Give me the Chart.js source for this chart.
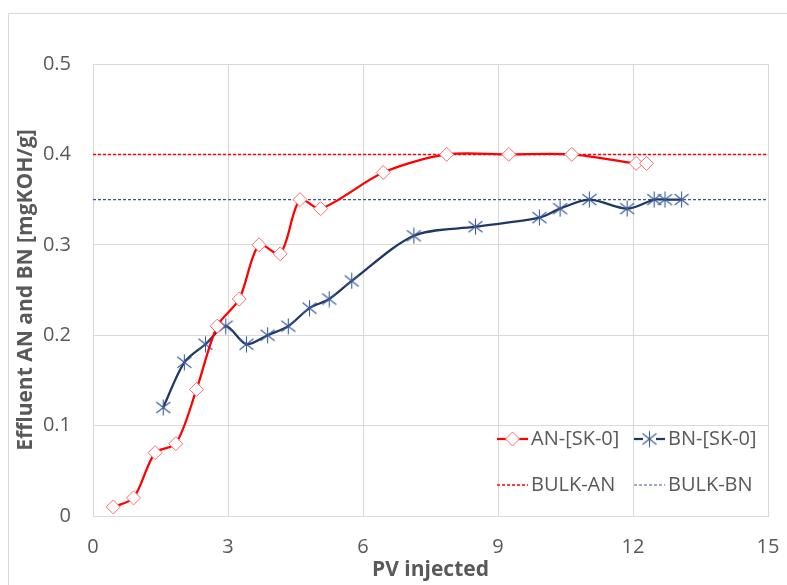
<!DOCTYPE html>
<html>
<head>
<meta charset="utf-8">
<script src="https://cdn.jsdelivr.net/npm/chart.js@4.4.0/dist/chart.umd.min.js"></script>
<style>
  html, body { margin: 0; padding: 0; background: #fff; }
  #wrap { width: 787px; height: 585px; position: relative; }
</style>
</head>
<body>
<div id="wrap"><canvas id="effluentChart" width="787" height="585"></canvas></div>
<script>
// AN-[SK-0] effluent points (PV injected, mgKOH/g)
const anPV = [0.45, 0.9, 1.38, 1.84, 2.3, 2.76, 3.25, 3.69, 4.16, 4.6, 5.06, 6.45, 7.86, 9.24, 10.64, 12.07, 12.3];
const anVal = [0.01, 0.02, 0.07, 0.08, 0.14, 0.21, 0.24, 0.30, 0.29, 0.35, 0.34, 0.38, 0.40, 0.40, 0.40, 0.39, 0.39];

// BN-[SK-0] effluent points
const bnPV = [1.56, 2.03, 2.5, 2.95, 3.41, 3.88, 4.34, 4.81, 5.25, 5.75, 7.13, 8.5, 9.92, 10.38, 11.03, 11.87, 12.47, 12.71, 13.08];
const bnVal = [0.12, 0.17, 0.19, 0.21, 0.19, 0.20, 0.21, 0.23, 0.24, 0.26, 0.31, 0.32, 0.33, 0.34, 0.35, 0.34, 0.35, 0.35, 0.35];

// bulk reference levels
const bulkPV = [0, 15];
const bulkAN = 0.40;
const bulkBN = 0.35;

const xTicks = [0, 3, 6, 9, 12, 15];
const yTicks = [0, 0.1, 0.2, 0.3, 0.4, 0.5];

const toXY = (xs, ys) => xs.map((x, i) => ({x: x, y: ys[i]}));

const FONT = '"Open Sans", "Noto Sans", sans-serif';
const GREY = '#595959';

// Excel style asterisk marker (vertical bar + X)
function makeStar(color) {
    const c = document.createElement('canvas');
    c.width = 17; c.height = 17;
    const g = c.getContext('2d');
    g.strokeStyle = color;
    g.lineWidth = 1.1;
    g.beginPath();
    g.moveTo(8.5, 0.5); g.lineTo(8.5, 16.5);
    g.moveTo(1.5, 3); g.lineTo(15.5, 14);
    g.moveTo(15.5, 3); g.lineTo(1.5, 14);
    g.stroke();
    return c;
}
const starImg = makeStar('#3A5A9C');

// legend drawn inside the plot, two columns like the original
const insideLegend = {
    id: 'insideLegend',
    afterDraw(chart) {
        const ctx = chart.ctx;
        const a = chart.chartArea;
        const x0 = a.left + 404, x1 = a.left + 541;
        const r0 = a.top + 375, r1 = a.top + 421;
        ctx.save();
        ctx.font = '20px ' + FONT;
        ctx.fillStyle = GREY;
        ctx.textBaseline = 'middle';
        ctx.textAlign = 'left';

        // AN
        ctx.strokeStyle = '#FF0000'; ctx.lineWidth = 2.25;
        ctx.beginPath(); ctx.moveTo(x0, r0); ctx.lineTo(x0 + 31, r0); ctx.stroke();
        ctx.fillStyle = '#fff'; ctx.strokeStyle = '#FF6B6B'; ctx.lineWidth = 1;
        ctx.beginPath();
        ctx.moveTo(x0 + 15.5, r0 - 7); ctx.lineTo(x0 + 22.5, r0);
        ctx.lineTo(x0 + 15.5, r0 + 7); ctx.lineTo(x0 + 8.5, r0); ctx.closePath();
        ctx.fill(); ctx.stroke();
        ctx.fillStyle = GREY;
        ctx.fillText('AN-[SK-0]', x0 + 34, r0);

        // BN
        ctx.strokeStyle = '#1F3864'; ctx.lineWidth = 2.25;
        ctx.beginPath(); ctx.moveTo(x1, r0); ctx.lineTo(x1 + 31, r0); ctx.stroke();
        ctx.fillStyle = '#fff';
        ctx.fillRect(x1 + 9, r0 - 2, 13, 4);
        ctx.drawImage(starImg, x1 + 7, r0 - 8.5);
        ctx.fillStyle = GREY;
        ctx.fillText('BN-[SK-0]', x1 + 34, r0);

        // bulk lines
        ctx.setLineDash([3, 2]); ctx.lineWidth = 1.5;
        ctx.strokeStyle = '#FF0000';
        ctx.beginPath(); ctx.moveTo(x0, r1); ctx.lineTo(x0 + 31, r1); ctx.stroke();
        ctx.strokeStyle = '#3B5590'; ctx.lineWidth = 1.2;
        ctx.beginPath(); ctx.moveTo(x1, r1); ctx.lineTo(x1 + 31, r1); ctx.stroke();
        ctx.setLineDash([]);
        ctx.fillText('BULK-AN', x0 + 34, r1);
        ctx.fillText('BULK-BN', x1 + 34, r1);
        ctx.restore();
    }
};

// light chart-frame border as in the Excel export
const frame = {
    id: 'frame',
    beforeDraw(chart) {
        const ctx = chart.ctx;
        ctx.save();
        ctx.strokeStyle = '#D9D9D9';
        ctx.lineWidth = 1;
        ctx.strokeRect(8.5, 13.5, 900, 900);
        ctx.restore();
    }
};

var ctx = document.getElementById('effluentChart');
new Chart(ctx, {
    type: 'scatter',
    data: {
        datasets: [{
            label: 'AN-[SK-0]',
            data: toXY(anPV, anVal),
            showLine: true,
            borderColor: '#FF0000',
            borderWidth: 2.25,
            tension: 0.3,
            pointStyle: 'rectRot',
            pointRadius: 7,
            pointBackgroundColor: '#fff',
            pointBorderColor: '#FF6B6B',
            pointBorderWidth: 1
        }, {
            label: 'BN-[SK-0]',
            data: toXY(bnPV, bnVal),
            showLine: true,
            borderColor: '#1F3864',
            borderWidth: 2.25,
            tension: 0.3,
            pointStyle: starImg,
            pointRadius: 8
        }, {
            label: 'BULK-AN',
            data: toXY(bulkPV, [bulkAN, bulkAN]),
            showLine: true,
            borderColor: '#FF0000',
            borderWidth: 1.5,
            borderDash: [3, 2],
            pointRadius: 0
        }, {
            label: 'BULK-BN',
            data: toXY(bulkPV, [bulkBN, bulkBN]),
            showLine: true,
            borderColor: '#3B5590',
            borderWidth: 1.2,
            borderDash: [3, 2],
            pointRadius: 0
        }]
    },
    options: {
        responsive: false,
        animation: false,
        layout: { padding: { left: 8, top: 64, right: 19, bottom: 0 } },
        plugins: {
            legend: { display: false },
            tooltip: { enabled: false }
        },
        scales: {
            x: {
                type: 'linear',
                min: 0, max: 15,
                afterBuildTicks: s => { s.ticks = xTicks.map(v => ({value: v})); },
                afterFit: s => { s.height = 69; s.paddingLeft = 0; s.paddingRight = 0; },
                grid: { color: '#D9D9D9', drawTicks: false },
                border: { color: '#D9D9D9' },
                ticks: { color: GREY, padding: 19, font: { family: FONT, size: 20 } },
                title: {
                    display: true, text: 'PV injected', color: GREY,
                    font: { family: FONT, size: 21, weight: 'bold' },
                    padding: { top: 0, bottom: 2 }
                }
            },
            y: {
                min: 0, max: 0.5,
                afterBuildTicks: s => { s.ticks = yTicks.map(v => ({value: v})); },
                afterFit: s => { s.width = 85; },
                grid: { color: '#D9D9D9', drawTicks: false },
                border: { color: '#D9D9D9' },
                ticks: {
                    color: GREY, padding: 22, font: { family: FONT, size: 20 },
                    callback: v => String(Math.round(v * 10) / 10)
                },
                title: {
                    display: true, text: 'Effluent AN and BN [mgKOH/g]', color: GREY,
                    font: { family: FONT, size: 21, weight: 'bold' },
                    padding: { top: 5, bottom: 0 }
                }
            }
        }
    },
    plugins: [frame, insideLegend]
});
</script>
</body>
</html>
